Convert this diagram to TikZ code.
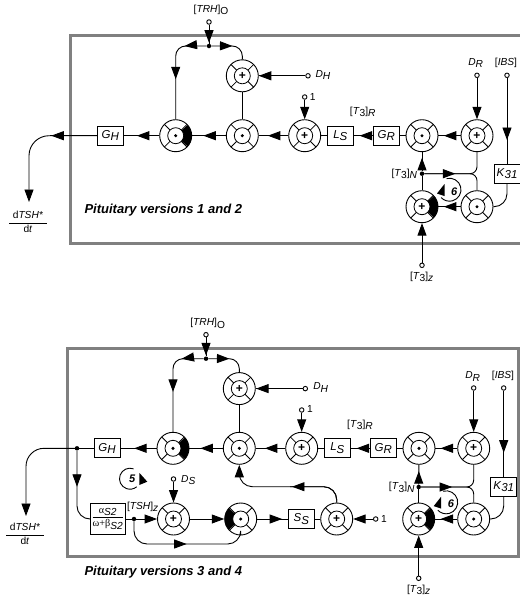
\documentclass[tikz,border=0pt]{standalone}
\usepackage{amsmath}
\usepackage{fontspec}
\setmainfont{Liberation Sans}
\newfontfamily\greekfont{Liberation Serif}
\usetikzlibrary{arrows.meta,decorations.markings}
\def\low#1{\raisebox{-2.5pt}{#1}}
\def\itlow#1{\raisebox{-2.5pt}{\textit{#1}}}
\newcommand{\junctionmarks}[3]{%
  \begin{scope}[shift={(path picture bounding box.center)}]
    \fill[#1] (#2-42:8) arc (#2-42:#2+42:8) -- (#2+42:17) arc (#2+42:#2-42:17) -- cycle;
    \draw[line width=.8pt] (0,0) circle (8);
    \foreach \ang in {45,135,225,315}
      \draw[line width=.8pt] (\ang:8) -- (\ang:17);
    \ifdim#3>0pt \fill (0,0) circle (#3);
    \else \node[inner sep=0pt,font=\bfseries\fontsize{12}{12}\selectfont] at (0,0) {+};\fi
  \end{scope}}
\tikzset{
  junctionbase/.style={circle,draw,line width=.9pt,minimum size=32pt,inner sep=0pt},
  sumnode/.style={junctionbase,path picture={\junctionmarks{white}{0}{0pt}}},
  prodnode/.style={junctionbase,path picture={\junctionmarks{white}{0}{1.7pt}}},
  sumblack/.style={junctionbase,path picture={\junctionmarks{black}{#1}{0pt}}},
  prodblack/.style={junctionbase,path picture={\junctionmarks{black}{#1}{1.7pt}}},
  gainbox/.style={draw,line width=.9pt,minimum width=26pt,minimum height=19pt,inner sep=0pt,font=\fontsize{11.5}{13}\selectfont},
  terminal/.style={circle,draw,line width=.9pt,minimum size=4.5pt,inner sep=0pt},
  branchdot/.style={circle,fill,minimum size=4.5pt,inner sep=0pt},
  lab/.style={inner sep=0pt,font=\fontsize{10.2}{12}\selectfont},
  title/.style={inner sep=0pt,font=\bfseries\itshape\fontsize{13}{15}\selectfont},
  looplab/.style={inner sep=0pt,font=\bfseries\itshape\fontsize{11}{13}\selectfont},
  frame/.style={draw=black!50,line width=3pt},
  link/.style={line width=.9pt},
  bigtip/.tip={Triangle[length=12.5pt,width=9pt]},
  endtip/.style={link,-bigtip},
  flow/.style={link,postaction={decorate},decoration={markings,
    mark=at position #1 with {\arrow{bigtip}}}},
  flowtwo/.style 2 args={link,postaction={decorate},decoration={markings,
    mark=at position #1 with {\arrow{bigtip}},
    mark=at position #2 with {\arrow{bigtip}}}},
}
\begin{document}
\begin{tikzpicture}[x=1pt,y=1pt]
  \useasboundingbox (0,0) rectangle (520,-598);
  % pituitary versions 1 and 2
  \draw[frame] (522,-35) -- (70.5,-35) -- (70.5,-243) -- (522,-243);
  \node[prodblack=0] (Aa) at (175.7,-135.7) {};
  \node[prodnode] (Ba) at (242.3,-135.7) {};
  \node[sumnode] (Ca) at (242.3,-75.8) {};
  \node[sumnode] (Da) at (304.7,-135.7) {};
  \node[prodnode] (Ea) at (422,-135.7) {};
  \node[sumnode] (Fa) at (477,-135.7) {};
  \node[sumblack=0] (Ga) at (422,-206.7) {};
  \node[prodnode] (Ha) at (477,-206.7) {};
  \node[gainbox] (GHa) at (110.3,-135.7) {\textit{G}\itlow{H}};
  \node[gainbox] (LSa) at (340.3,-135.7) {\textit{L}\itlow{S}};
  \node[gainbox] (GRa) at (386.3,-135.7) {\textit{G}\itlow{R}};
  \node[gainbox] (Ka) at (507,-173.7) {\textit{K}\itlow{31}};
  \node[terminal] (trha) at (209,-22) {};
  \node[branchdot] (bra) at (209,-46) {};
  \node[terminal] (dha) at (308,-75.8) {};
  \node[terminal] (onea) at (304.7,-97) {};
  \node[terminal] (dra) at (477,-75.3) {};
  \node[terminal] (ibsa) at (507,-75.3) {};
  \node[terminal] (t3za) at (422,-265.3) {};
  \node[branchdot] (t3na) at (422,-173.7) {};
  \coordinate (outa) at (29,-202);
  \draw[flow=18pt] (trha) -- (bra);
  \draw[flowtwo={22pt}{-40pt},rounded corners=10pt] (bra) -| (Aa.north);
  \draw[flow=21pt,rounded corners=10pt] (bra) -| (Ca.north);
  \draw[link] (Ca) -- (Ba);
  \draw[flow=22.5pt] (Ba) -- (Aa);
  \draw[flow=22.4pt] (Aa) -- (GHa);
  \draw[flow=45.6pt] (GHa.west) -- (50,-135.7);
  \draw[endtip,rounded corners=20pt] (GHa.west) -| (outa);
  \draw[flow=46.5pt] (dha) -- (Ca);
  \draw[endtip] (onea) -- (Da);
  \draw[flow=20.4pt] (Da) -- (Ba);
  \draw[link] (LSa) -- (Da);
  \draw[flow=13.3pt] (GRa) -- (LSa);
  \draw[link] (Ea) -- (GRa);
  \draw[flow=16.7pt] (Fa) -- (Ea);
  \draw[endtip] (dra) -- (Fa);
  \draw[flow=62pt] (ibsa) -- (Ka);
  \draw[link,rounded corners=13pt] (Ka.south) |- (Ha.east);
  \draw[link] (Ga) -- (t3na);
  \draw[flow=13.4pt] (t3na) -- (Ea);
  \draw[flow=31pt,rounded corners=7pt] (t3na) -| (Fa.south);
  \draw[link,rounded corners=7pt] (Ha.north) |- (t3na);
  \draw[flow=16.7pt] (Ha) -- (Ga);
  \draw[endtip] (t3za) -- (Ga);
  % loop 6
  \draw[link] ([shift={(449.5,-189.7)}]105:11.5) arc (105:-137:11.5);
  \fill (444.5,-184) -- (437,-193.5) -- (444.5,-196) -- cycle;
  \node[looplab] (loopa) at (454.3,-191.5) {6};
  % labels
  \node[lab] (trhlaba) at (211,-10) {[\textit{TRH}]\low{O}};
  \node[lab] (dhlaba) at (323,-75) {\textit{D}\itlow{H}};
  \node[lab] (onelaba) at (312.7,-97) {1};
  \node[lab] (t3rlaba) at (362.7,-112) {[\textit{T}\low{3}]\itlow{R}};
  \node[lab] (drlaba) at (475.7,-63) {\textit{D}\itlow{R}};
  \node[lab] (ibslaba) at (506,-62.7) {[\textit{IBS}]};
  \node[lab] (t3nlaba) at (404.3,-174) {[\textit{T}\low{3}]\itlow{N}};
  \node[lab] (t3zlaba) at (421.7,-277) {[\textit{T}\low{3}]\itlow{z}};
  \node[lab] (dtsha) at (28,-222) {$\dfrac{\makebox[38pt]{d\textit{TSH*}}}{\mbox{d\textit{t}}}$};
  \node[title] (titlea) at (163.3,-210) {Pituitary versions 1 and 2};
  % pituitary versions 3 and 4
  \draw[frame] (67.5,-348) rectangle (518.8,-556);
  \node[prodblack=0] (Ab) at (173,-448.3) {};
  \node[prodnode] (Bb) at (239.3,-448.3) {};
  \node[sumnode] (Cb) at (239.3,-388.6) {};
  \node[sumnode] (Db) at (301.7,-448.3) {};
  \node[prodnode] (Eb) at (419,-448.3) {};
  \node[sumnode] (Fb) at (473.7,-448.3) {};
  \node[sumblack=0] (Gb) at (418.7,-519) {};
  \node[prodnode] (Hb) at (473.7,-519) {};
  \node[sumnode] (Pb) at (173.5,-519) {};
  \node[prodblack=180] (Qb) at (240.7,-519) {};
  \node[sumnode] (Rb) at (336.7,-519) {};
  \node[gainbox] (GHb) at (107,-448.3) {\textit{G}\itlow{H}};
  \node[gainbox] (LSb) at (337.3,-448.3) {\textit{L}\itlow{S}};
  \node[gainbox] (GRb) at (383.3,-448.3) {\textit{G}\itlow{R}};
  \node[gainbox] (Kb) at (503.7,-486.7) {\textit{K}\itlow{31}};
  \node[gainbox] (SSb) at (301.3,-519) {\textit{S}\itlow{S}};
  \node[gainbox,minimum width=35pt,minimum height=31pt,font=\fontsize{10.2}{12}\selectfont] (fracb) at (107.7,-519)
    {$\dfrac{\mbox{{\greekfont α}\itlow{S2}}}{\mbox{{\greekfont ω+β}\itlow{S2}}}$};
  \node[terminal] (trhb) at (206,-334.7) {};
  \node[branchdot] (brb) at (206,-358.7) {};
  \node[terminal] (dhb) at (305.3,-388.6) {};
  \node[terminal] (oneb) at (301.7,-410) {};
  \node[terminal] (drb) at (473.7,-388) {};
  \node[terminal] (ibsb) at (503.7,-388) {};
  \node[terminal] (t3zb) at (418.7,-578.3) {};
  \node[terminal] (dsb) at (173.5,-479) {};
  \node[terminal] (onerb) at (375.7,-519) {};
  \node[branchdot] (t3nb) at (418.7,-487) {};
  \node[branchdot] (outdotb) at (77,-448.3) {};
  \node[branchdot] (tshb) at (134,-519) {};
  \coordinate (outb) at (26,-516);
  \draw[flow=18pt] (trhb) -- (brb);
  \draw[flowtwo={22pt}{-40pt},rounded corners=10pt] (brb) -| (Ab.north);
  \draw[flow=21pt,rounded corners=10pt] (brb) -| (Cb.north);
  \draw[link] (Cb) -- (Bb);
  \draw[flow=22.5pt] (Bb) -- (Ab);
  \draw[flow=22.4pt] (Ab) -- (GHb);
  \draw[link] (GHb) -- (outdotb);
  \draw[flow=26.7pt] (outdotb) -- (48,-448.3);
  \draw[endtip,rounded corners=18pt] (outdotb) -| (outb);
  \draw[flow=36pt,rounded corners=13pt] (outdotb) |- (fracb.west);
  \draw[flow=46.5pt] (dhb) -- (Cb);
  \draw[endtip] (oneb) -- (Db);
  \draw[flow=20.4pt] (Db) -- (Bb);
  \draw[link] (LSb) -- (Db);
  \draw[flow=13.3pt] (GRb) -- (LSb);
  \draw[link] (Eb) -- (GRb);
  \draw[flow=16.7pt] (Fb) -- (Eb);
  \draw[endtip] (drb) -- (Fb);
  \draw[flow=62pt] (ibsb) -- (Kb);
  \draw[link,rounded corners=13pt] (Kb.south) |- (Hb.east);
  \draw[link] (Gb) -- (t3nb);
  \draw[flow=13.4pt] (t3nb) -- (Eb);
  \draw[flow=31pt,rounded corners=7pt] (t3nb) -| (Fb.south);
  \draw[link,rounded corners=7pt] (Hb.north) |- (t3nb);
  \draw[flow=16.7pt] (Hb) -- (Gb);
  \draw[endtip] (t3zb) -- (Gb);
  \draw[link] (fracb) -- (tshb);
  \draw[endtip] (tshb) -- (Pb);
  \draw[flow=69.6pt,rounded corners=13pt] (tshb) |- (200,-544) -| (Qb.south);
  \draw[endtip] (dsb) -- (Pb);
  \draw[endtip] (Pb) -- (Qb);
  \draw[flow=25pt] (Qb) -- (SSb);
  \draw[link] (Rb) -- (SSb);
  \draw[endtip] (onerb) -- (Rb);
  \draw[endtip,rounded corners=13pt] (Rb.north) |- (290,-486.7) -| (Bb.south);
  \draw[flow=55pt,rounded corners=13pt] (Rb.north) |- (290,-486.7);
  % loop 5
  \draw[link] ([shift={(130,-478.7)}]70:10.5) arc (70:310:10.5);
  \fill (139.5,-473) -- (139.3,-485) -- (147.3,-481.7) -- cycle;
  \node[looplab] (loopb) at (132.3,-479) {5};
  % loop 6
  \draw[link] ([shift={(446.2,-502.3)}]105:11.5) arc (105:-137:11.5);
  \fill (441.2,-496.6) -- (433.7,-506.1) -- (441.2,-508.6) -- cycle;
  \node[looplab] (loopc) at (451,-504) {6};
  % labels
  \node[lab] (trhlabb) at (207.7,-323.3) {[\textit{TRH}]\low{O}};
  \node[lab] (dhlabb) at (320.7,-387.3) {\textit{D}\itlow{H}};
  \node[lab] (onelabb) at (310,-409.3) {1};
  \node[lab] (t3rlabb) at (360,-424.7) {[\textit{T}\low{3}]\itlow{R}};
  \node[lab] (drlabb) at (472.7,-376.3) {\textit{D}\itlow{R}};
  \node[lab] (ibslabb) at (503,-376) {[\textit{IBS}]};
  \node[lab] (t3nlabb) at (401.7,-487.3) {[\textit{T}\low{3}]\itlow{N}};
  \node[lab] (t3zlabb) at (418.7,-590) {[\textit{T}\low{3}]\itlow{z}};
  \node[lab] (dslabb) at (188.3,-480) {\textit{D}\itlow{S}};
  \node[lab] (tshlabb) at (142.7,-506.7) {[\textit{TSH}]\itlow{z}};
  \node[lab] (onerlabb) at (384,-518.7) {1};
  \node[lab] (dtshb) at (25,-534) {$\dfrac{\makebox[38pt]{d\textit{TSH*}}}{\mbox{d\textit{t}}}$};
  \node[title] (titleb) at (163.3,-572.3) {Pituitary versions 3 and 4};
\end{tikzpicture}
\end{document}
